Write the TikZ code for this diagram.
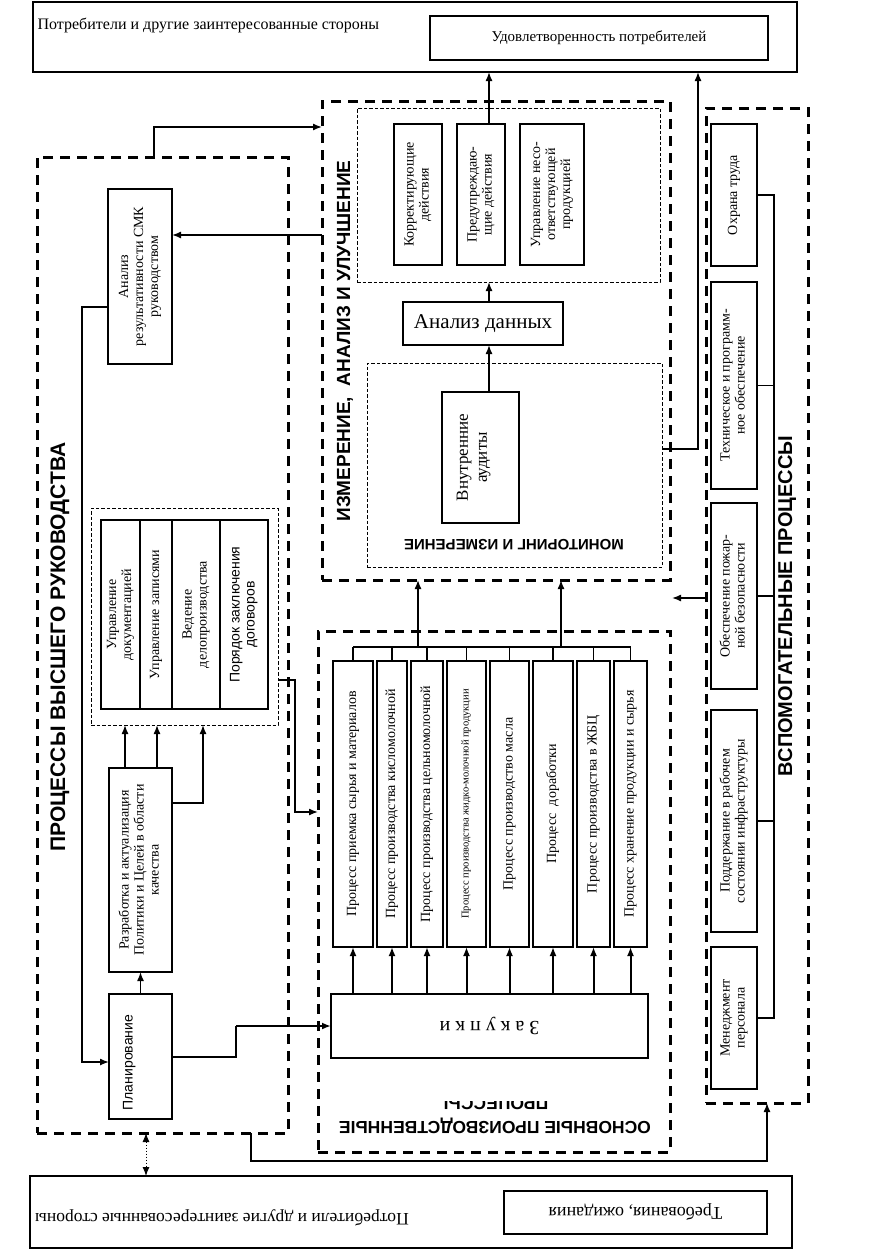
\documentclass[tikz,border=0pt]{standalone}
\usepackage{fontspec}
\usepackage{graphicx}
\setmainfont{Liberation Serif}
\setsansfont{Liberation Sans}
\usetikzlibrary{positioning,arrows.meta}
\newcommand{\fsz}[2]{\fontsize{#1}{#2}\selectfont}
\newcommand{\vtx}[1]{\rotatebox{90}{\begin{tabular}{@{}c@{}}#1\end{tabular}}}

\begin{document}
\begin{tikzpicture}[x=1pt,y=-1pt,line width=1.2pt,%
  >={Latex[length=9pt,width=7pt]},%
  arr/.style={->,line width=1.4pt},%
  arrb/.style={->,line width=2pt},%
  box/.style={draw,line width=1.4pt,inner sep=1pt,outer sep=0pt,font=\fsz{14}{15}},%
  frame/.style={draw,line width=3pt,dash pattern=on 10pt off 7pt,outer sep=0pt},%
  sub/.style={draw,line width=0.9pt,dash pattern=on 3.5pt off 2pt,outer sep=0pt},%
  ttl/.style={inner sep=0pt,font=\sffamily\bfseries\fsz{20}{22}}%
  ]
  \useasboundingbox (0,0) rectangle (873,1250);
%
  \node[box,minimum width=764,minimum height=70,anchor=north west] (top) at (33,2) {};
  \node[anchor=west,inner sep=0pt,font=\fsz{16}{18}] (topt) at (37,25) {Потребители и другие заинтересованные стороны};
  \node[box,minimum width=338,minimum height=44,anchor=north west,font=\fsz{15}{17}] (sat) at (430,16) {Удовлетворенность потребителей};
%
  \node[frame,minimum width=251,minimum height=976,anchor=north west] (lfr) at (37,157) {};
  \node[ttl,rotate=90,font=\sffamily\bfseries\fsz{21}{23}] (lfrt) at (60,647) {ПРОЦЕССЫ ВЫСШЕГО РУКОВОДСТВА};
  \node[box,minimum width=64,minimum height=175,anchor=north west] (an) at (108,189) {\vtx{Анализ\\результативности СМК\\руководством}};
  \node[sub,minimum width=187,minimum height=217,anchor=north west] (docs) at (91,508) {};
  \node[box,minimum width=39,minimum height=189,anchor=north west] (c1) at (101,520) {\vtx{Управление\\документацией}};
  \node[box,minimum width=32,minimum height=189,right=0 of c1] (c2) {\vtx{Управление записями}};
  \node[box,minimum width=48,minimum height=189,right=0 of c2] (c3) {\vtx{Ведение\\делопроизводства}};
  \node[box,minimum width=48,minimum height=189,right=0 of c3,font=\sffamily\fsz{14}{15}] (c4) {\vtx{Порядок заключения\\договоров}};
  \node[box,minimum width=63,minimum height=204,anchor=north west] (razr) at (109,768) {\vtx{Разработка и актуализация\\Политики и Целей в области\\качества}};
  \node[box,minimum width=63,minimum height=125,anchor=north west,font=\sffamily\fsz{14}{15}] (plan) at (109,994) {\vtx{Планирование\hspace*{12pt}}\hspace*{22pt}};
%
  \node[frame,minimum width=348,minimum height=479,anchor=north west] (izm) at (322,101) {};
  \node[ttl,rotate=90,font=\sffamily\bfseries\fsz{19}{21}] (izmt) at (345,341) {ИЗМЕРЕНИЕ,\ \ АНАЛИЗ И УЛУЧШЕНИЕ};
  \node[sub,minimum width=303,minimum height=174,anchor=north west] (act) at (357,108) {};
  \node[box,minimum width=48,minimum height=141,anchor=north west] (kor) at (394,124) {\vtx{Корректирующие\\действия}};
  \node[box,minimum width=48,minimum height=141,right=15 of kor] (pre) {\vtx{Предупреждаю-\\щие действия}};
  \node[box,minimum width=64,minimum height=141,right=15 of pre] (ups) {\vtx{Управление несо-\\ответствующей\\продукцией}};
  \node[box,minimum width=160,minimum height=43,anchor=north west,font=\fsz{21}{23}] (dat) at (403,302) {Анализ данных};
  \node[sub,minimum width=295,minimum height=204,anchor=north west] (mon) at (367,363) {};
  \node[box,minimum width=77,minimum height=131,anchor=north west,font=\fsz{17}{19}] (aud) at (442,392) {\vtx{Внутренние\\аудиты}\hspace*{14pt}};
  \node[ttl,rotate=180,font=\sffamily\bfseries\fsz{15}{17}] (mont) at (514,545) {МОНИТОРИНГ И ИЗМЕРЕНИЕ};
%
  \node[frame,minimum width=352,minimum height=521,anchor=north west] (osn) at (318,631) {};
  \node[box,minimum width=40,minimum height=286,anchor=north west] (p1) at (333,661) {\vtx{Процесс приемка сырья и материалов}};
  \node[box,minimum width=30,minimum height=286,right=4 of p1] (p2) {\vtx{Процесс производства кисломолочной}};
  \node[box,minimum width=32,minimum height=286,right=4 of p2] (p3) {\vtx{Процесс производства цельномолочной}};
  \node[box,minimum width=39,minimum height=286,right=4 of p3,font=\fsz{10.5}{11}] (p4) {\vtx{Процесс производства жидко-молочной продукции}};
  \node[box,minimum width=39,minimum height=286,right=4 of p4] (p5) {\vtx{Процесс производство масла}};
  \node[box,minimum width=40,minimum height=286,right=4 of p5] (p6) {\vtx{Процесс\ \ доработки}};
  \node[box,minimum width=33,minimum height=286,right=4 of p6] (p7) {\vtx{Процесс производства в ЖБЦ}};
  \node[box,minimum width=33,minimum height=286,right=4 of p7] (p8) {\vtx{Процесс хранение продукции и сырья}};
  \node[box,minimum width=317,minimum height=64,anchor=north west,font=\fsz{20}{22}] (zak) at (331,994) {\rotatebox{180}{З а к у п к и}};
  \node[ttl,rotate=180,font=\sffamily\bfseries\fsz{17.5}{19}] (osnt) at (495,1126) {ОСНОВНЫЕ ПРОИЗВОДСТВЕННЫЕ};
  \begin{scope}
    \clip (320,1101) rectangle (668,1113);
    \node[ttl,rotate=180,font=\sffamily\bfseries\fsz{17.5}{19}] (osnt2) at (496,1102) {ПРОЦЕССЫ};
  \end{scope}
  \coordinate (cm1) at (418,647);
  \coordinate (cm2) at (561,647);
%
  \node[frame,minimum width=102,minimum height=995,anchor=north west] (vsp) at (706,108) {};
  \node[box,minimum width=46,minimum height=142,anchor=north west] (ohr) at (711,124) {\vtx{Охрана труда}};
  \node[box,minimum width=46,minimum height=207,anchor=north west] (teh) at (711,282) {\vtx{Техническое и программ-\\ное обеспечение}};
  \node[box,minimum width=46,minimum height=186,anchor=north west] (poz) at (711,503) {\vtx{Обеспечение пожар-\\ной безопасности}};
  \node[box,minimum width=46,minimum height=222,anchor=north west] (pod) at (711,710) {\vtx{Поддержание в рабочем\\состоянии инфраструктуры}};
  \node[box,minimum width=46,minimum height=142,anchor=north west] (men) at (711,947) {\vtx{Менеджмент\\персонала}};
  \node[ttl,rotate=90] (vspt) at (787,606) {ВСПОМОГАТЕЛЬНЫЕ ПРОЦЕССЫ};
  \coordinate (bus) at (774,0);
  \coordinate (vin) at (672,598);
%
  \node[box,minimum width=762,minimum height=72,anchor=north west] (bot) at (30,1176) {};
  \node[inner sep=0pt,rotate=180,font=\fsz{17.5}{20}] (bott) at (222,1218) {Потребители и другие заинтересованные стороны};
  \node[box,minimum width=263,minimum height=43,anchor=north west,font=\fsz{18}{20}] (trb) at (504,1191) {\rotatebox{180}{Требования, ожидания}};
%
  \draw[arr] (lfr.north -| 154,0) |- (izm.west |- 0,127);
  \draw[arr] (izm.west |- 0,235) -- (an.east |- 0,235);
  \draw[arr] (an.west |- 0,307) -| (82,1062) -- (plan.west |- 0,1062);
  \draw[arr] (plan.north) -- (razr.south);
  \draw[arr] (razr.north -| 125,0) -- (docs.south -| 125,0);
  \draw[arr] (razr.north -| 157,0) -- (docs.south -| 157,0);
  \draw[arr] (razr.east |- 0,803) -| (docs.south -| 203,0);
  \draw[arr] (docs.east |- 0,680) -| (295,812) -- (osn.west |- 0,812);
  \draw (plan.east |- 0,1057) -| (236,1026);
  \draw[arr,line width=2.6pt] (236,1026) -- (zak.west |- 0,1026);
%
  \draw[arr] (aud.north -| 489,0) -- (dat.south -| 489,0);
  \draw[arr] (dat.north -| 489,0) -- (act.south -| 489,0);
  \draw[arr] (pre.north -| 489,0) -- (top.south -| 489,0);
  \draw[arr] (mon.east |- 0,449) -| (top.south -| 698,0);
%
  \draw (p1.north |- cm1) -- (p8.north |- cm1);
  \draw (p1.north) -- (p1.north |- cm1);
  \draw (p2.north) -- (p2.north |- cm1);
  \draw (p3.north) -- (p3.north |- cm1);
  \draw (p4.north) -- (p4.north |- cm1);
  \draw (p5.north) -- (p5.north |- cm1);
  \draw (p6.north) -- (p6.north |- cm1);
  \draw (p7.north) -- (p7.north |- cm1);
  \draw (p8.north) -- (p8.north |- cm1);
  \draw[arr] (cm1) -- (cm1 |- izm.south);
  \draw[arr] (cm2) -- (cm2 |- izm.south);
%
  \draw[arrb] (zak.north -| p1.south) -- (p1.south);
  \draw[arrb] (zak.north -| p2.south) -- (p2.south);
  \draw[arrb] (zak.north -| p3.south) -- (p3.south);
  \draw[arrb] (zak.north -| p4.south) -- (p4.south);
  \draw[arrb] (zak.north -| p5.south) -- (p5.south);
  \draw[arrb] (zak.north -| p6.south) -- (p6.south);
  \draw[arrb] (zak.north -| p7.south) -- (p7.south);
  \draw[arrb] (zak.north -| p8.south) -- (p8.south);
%
  \draw (ohr.east) -| (bus |- men.east) -- (men.east);
  \draw (teh.east) -- (teh.east -| bus);
  \draw (poz.east) -- (poz.east -| bus);
  \draw (pod.east) -- (pod.east -| bus);
  \draw[arr] (vsp.west |- vin) -- (vin);
%
  \draw[<->,dotted,line width=1pt] (lfr.south -| 146,0) -- (bot.north -| 146,0);
  \draw[arr] (lfr.south -| 251,0) |- (767,1161) -- (vsp.south -| 767,0);
%
\end{tikzpicture}
\end{document}
